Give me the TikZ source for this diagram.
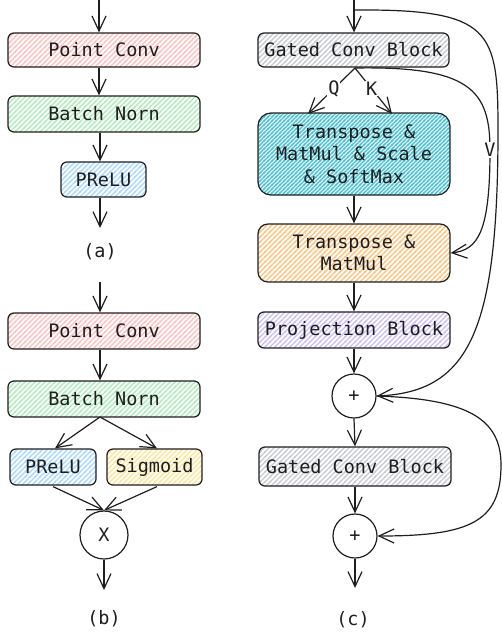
\documentclass[tikz,border=0pt]{standalone}
\usepackage{fontspec}
\setmainfont{DejaVu Sans Mono}
\usetikzlibrary{arrows.meta,patterns.meta,calc}
\definecolor{ink}{HTML}{1E1E1E}
\definecolor{hred}{HTML}{FFBDBD}
\definecolor{hgreen}{HTML}{A9EDB5}
\definecolor{hblue}{HTML}{A5D8FF}
\definecolor{hteal}{HTML}{3BC2D8}
\definecolor{horange}{HTML}{FFC078}
\definecolor{hpurple}{HTML}{CBBEF8}
\definecolor{hyellow}{HTML}{FFE594}
\definecolor{hgray}{HTML}{C6CBD0}
\tikzdeclarepattern{
  name=hatch,
  type=uncolored,
  bottom left={(-1pt,-1pt)},
  top right={(6pt,6pt)},
  tile size={(5pt,5pt)},
  code={\draw[line width=1.2pt] (-1pt,-1pt) -- (6pt,6pt);}
}
\tikzdeclarepattern{
  name=hatchdense,
  type=uncolored,
  bottom left={(-1pt,-1pt)},
  top right={(5pt,5pt)},
  tile size={(4pt,4pt)},
  code={\draw[line width=1.4pt] (-1pt,-1pt) -- (5pt,5pt);}
}
\begin{document}
\begin{tikzpicture}[x=1pt,y=-1pt,
  txt/.style={font=\fontsize{18.5}{22.5}\selectfont, text=ink},
  blk/.style={txt, draw=ink, line width=1.2pt, rounded corners=6pt, inner sep=0pt, align=center},
  redb/.style={blk, pattern=hatch, pattern color=hred},
  greenb/.style={blk, pattern=hatch, pattern color=hgreen},
  blueb/.style={blk, pattern=hatch, pattern color=hblue},
  yellowb/.style={blk, pattern=hatch, pattern color=hyellow},
  grayb/.style={blk, pattern=hatch, pattern color=hgray},
  tealb/.style={blk, rounded corners=13pt, pattern=hatchdense, pattern color=hteal},
  orangeb/.style={blk, rounded corners=10pt, pattern=hatch, pattern color=horange},
  purpleb/.style={blk, pattern=hatch, pattern color=hpurple},
  opnode/.style={txt, circle, draw=ink, line width=1.2pt, inner sep=0pt},
  arr/.style={draw=ink, line width=1.2pt, -{Straight Barb[length=15pt,width=14pt,line width=1.2pt]}},
  lbl/.style={txt, fill=white, inner sep=1pt},
  captxt/.style={txt}
]
\useasboundingbox (0,0) rectangle (502,637);

% ---------- panel (a) ----------
\coordinate (in_a) at (99,0);
\node[redb, minimum width=192pt, minimum height=34pt] (pc_a) at (104,50) {Point Conv};
\node[greenb, minimum width=192pt, minimum height=36pt] (bn_a) at (104,114) {Batch Norn};
\node[blueb, minimum width=85pt, minimum height=35pt] (pr_a) at (103.5,179.5) {PReLU};
\coordinate (out_a) at (100,228);
\node[captxt] (cap_a) at (100,252) {(a)};
\draw[arr] (in_a) -- (pc_a.north -| in_a);
\draw[arr] (pc_a.south -| in_a) -- (bn_a.north -| in_a);
\draw[arr] (bn_a.south -| out_a) -- (pr_a.north -| out_a);
\draw[arr] (pr_a.south -| out_a) -- (out_a);

% ---------- panel (b) ----------
\coordinate (in_b) at (100,282);
\node[redb, minimum width=192pt, minimum height=36pt] (pc_b) at (104,331) {Point Conv};
\node[greenb, minimum width=192pt, minimum height=36pt] (bn_b) at (104,399) {Batch Norn};
\node[blueb, minimum width=86pt, minimum height=36pt] (pr_b) at (53,467) {PReLU};
\node[yellowb, minimum width=95pt, minimum height=36pt] (sg_b) at (154.5,467) {Sigmoid};
\node[opnode, minimum size=48pt] (x_b) at (104,535) {X};
\coordinate (out_b) at (104,590);
\node[captxt] (cap_b) at (104,619) {(b)};
\draw[arr] (in_b) -- (pc_b.north -| in_b);
\draw[arr] (pc_b.south -| in_b) -- (bn_b.north -| in_b);
\coordinate (bn_bs) at (100,417);
\draw[arr] (bn_bs) -- ($(pr_b.north)+(2,0)$);
\draw[arr] (bn_bs) -- ($(sg_b.north)+(2.5,0)$);
\draw[arr] ($(pr_b.south)+(0,1)$) -- (x_b.north);
\draw[arr] ($(sg_b.south)+(2.5,1)$) -- (x_b.north);
\draw[arr] (x_b.south) -- (out_b);

% ---------- panel (c) ----------
\coordinate (in_c) at (354,0);
\coordinate (split) at (354,10);
\node[grayb, minimum width=191pt, minimum height=34pt] (g1) at (353.5,50) {Gated Conv Block};
\node[tealb, minimum width=192pt, minimum height=82pt] (tm1) at (354,154) {Transpose \&\\MatMul \& Scale\\\& SoftMax};
\node[orangeb, minimum width=192pt, minimum height=58pt] (tm2) at (354,253) {Transpose \&\\MatMul};
\node[purpleb, minimum width=192pt, minimum height=36pt] (pj) at (354,330) {Projection Block};
\node[opnode, minimum size=44pt] (p1) at (354,396) {+};
\node[grayb, minimum width=192pt, minimum height=39pt] (g2) at (355,466.5) {Gated Conv Block};
\node[opnode, minimum size=44pt] (p2) at (355,536) {+};
\coordinate (out_c) at (355,588);
\node[captxt] (cap_c) at (353,620) {(c)};

\draw[arr] (in_c) -- (g1.north -| in_c);
\coordinate (g1s) at (355,68);
\draw[arr] (g1s) -- node[lbl, pos=0.45] (qlab) {Q} (308,114);
\draw[arr] (g1s) -- node[lbl, pos=0.45] (klab) {K} (392,114);
\draw[arr] (g1s) .. controls (470,66) and (490,90) .. (490,150)
   node[lbl, pos=1] (vlab) {V}
   .. controls (490,232) and (478,250) .. (tm2.east);
\draw[arr] (tm1.south) -- (tm2.north);
\draw[arr] (tm2.south) -- (pj.north);
\draw[arr] (pj.south) -- (p1.north);
\draw[arr] (split) .. controls (492,9) and (498,30) .. (498,130)
   .. controls (498,330) and (470,392) .. (p1.east);
\draw[arr] (p1.south) -- (g2.north);
\draw[arr] (g2.south) -- (p2.north);
\draw[arr] (p1.east) .. controls (470,399) and (501,420) .. (501,465)
   .. controls (501,522) and (470,536) .. (p2.east);
\draw[arr] (p2.south) -- (out_c);
\end{tikzpicture}
\end{document}
